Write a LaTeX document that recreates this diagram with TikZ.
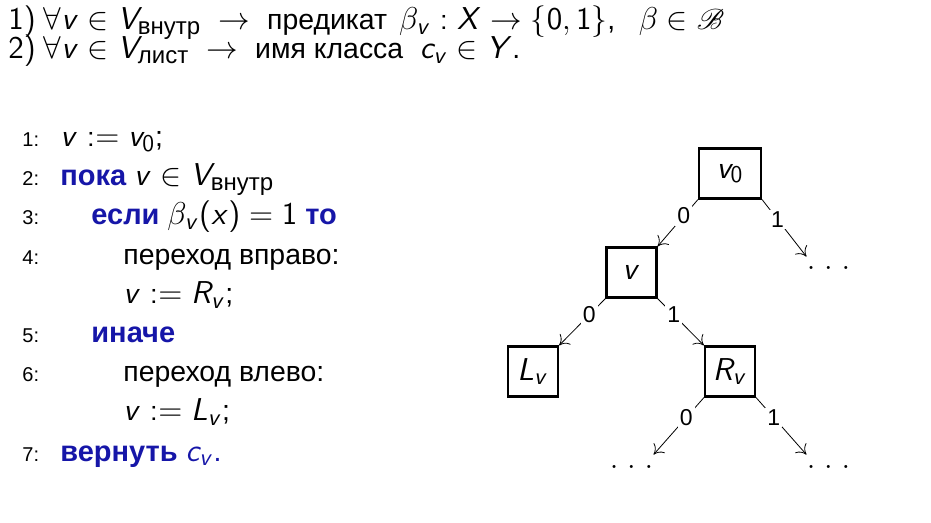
\RequirePackage{fix-cm}
\documentclass[tikz,border=0pt]{standalone}
\usepackage{amsmath}
\usepackage{mathrsfs}
\usepackage[no-math]{fontspec}
\setmainfont{Liberation Sans}
\usepackage{tikz}
\usetikzlibrary{shapes,arrows.meta}

% sans serif digits and latin letters in math
\DeclareSymbolFont{operators}{OT1}{cmss}{m}{n}
\DeclareSymbolFont{sfletters}{OT1}{cmss}{m}{sl}
\DeclareMathSymbol{v}{\mathalpha}{sfletters}{`v}
\DeclareMathSymbol{x}{\mathalpha}{sfletters}{`x}
\DeclareMathSymbol{c}{\mathalpha}{sfletters}{`c}
\DeclareMathSymbol{V}{\mathalpha}{sfletters}{`V}
\DeclareMathSymbol{X}{\mathalpha}{sfletters}{`X}
\DeclareMathSymbol{Y}{\mathalpha}{sfletters}{`Y}
\DeclareMathSymbol{L}{\mathalpha}{sfletters}{`L}
\DeclareMathSymbol{R}{\mathalpha}{sfletters}{`R}
\DeclareMathSizes{14.2}{15.8}{12}{9}

\definecolor{kwblue}{RGB}{22,22,168}
\newcommand{\keyw}[1]{\textcolor{kwblue}{\fontsize{14.5}{16}\selectfont\bfseries #1}}

\begin{document}
\begin{tikzpicture}[x=0.5pt,y=-0.5pt,font=\fontsize{14.2}{16}\selectfont,>={To[length=4.5pt,width=7.5pt]}]
    \tikzstyle{line}=[anchor=base west, inner sep=0pt]
    \tikzstyle{head}=[line, text height=10pt, text depth=1pt]
    \tikzstyle{num}=[line, font=\fontsize{10}{11}\selectfont]
    \tikzstyle{vbox}=[draw, line width=1.1pt, minimum width=25pt, minimum height=25pt]
    \tikzstyle{dotsnode}=[inner sep=0pt, text height=6.5pt, text depth=9pt]
    \tikzstyle{bit}=[fill=white, inner sep=1pt, pos=0.35, font=\fontsize{11.5}{13}\selectfont]
    \tikzstyle{to0}=[parent anchor=south west, child anchor=north east]
    \tikzstyle{to1}=[parent anchor=south east, child anchor=north west]
    \tikzstyle{level 1}=[sibling distance=98.5pt, level distance=49.5pt]
    \useasboundingbox (0,0) rectangle (931,523);

    % what the tree stores
    \node[head] (h1) at (8,30) {$1)$ $\forall v \in V_{\text{внутр}} \;\to\;$ предикат\hspace{6pt}$\beta_v : X \to \{0,1\}$,\;\; $\beta \in \mathscr{B}$};
    \node[head] (h2) at (8,59) {$2)$ $\forall v \in V_{\text{лист}} \;\to\;$ имя класса $\;c_v \in Y$.};

    % algorithm
    \node[num] (n1) at (22,147) {1:};
    \node[line] (t1) at (60,147) {$v := v_0$;};
    \node[num] (n2) at (22,186) {2:};
    \node[line] (t2) at (60,186) {\keyw{пока} $v \in V_{\text{внутр}}$};
    \node[num] (n3) at (22,225) {3:};
    \node[line] (t3) at (91,225) {\keyw{если} $\beta_v(x) = 1$ \keyw{то}};
    \node[num] (n4) at (22,265) {4:};
    \node[line] (t4) at (123,265) {переход вправо:};
    \node[line] (t4b) at (123,304) {$v := R_v$;};
    \node[num] (n5) at (22,343) {5:};
    \node[line] (t5) at (91,343) {\keyw{иначе}};
    \node[num] (n6) at (22,382) {6:};
    \node[line] (t6) at (123,382) {переход влево:};
    \node[line] (t6b) at (123,421) {$v := L_v$;};
    \node[num] (n7) at (22,461) {7:};
    \node[line] (t7) at (60,461) {\keyw{вернуть} \textcolor{kwblue}{$c_v$.}};

    % the tree
    \node[vbox, minimum width=31pt] (v0) at (730,173.5) {$v_0$} [->]
      child[to0] {node[vbox] (v) {$v$}
        child[to0] {node[vbox] (Lv) {$L_v$} edge from parent node[bit] (e3) {0}}
        child[to1] {node[vbox] (Rv) {$R_v$}
          child[to0] {node[dotsnode] (d2) {$.\;.\;.$} edge from parent node[bit] (e5) {0}}
          child[to1] {node[dotsnode] (d3) {$.\;.\;.$} edge from parent node[bit] (e6) {1}}
          edge from parent node[bit] (e4) {1}}
        edge from parent node[bit] (e1) {0}}
      child[to1] {node[dotsnode] (d1) {$.\;.\;.$} edge from parent node[bit] (e2) {1}};
\end{tikzpicture}
\end{document}
